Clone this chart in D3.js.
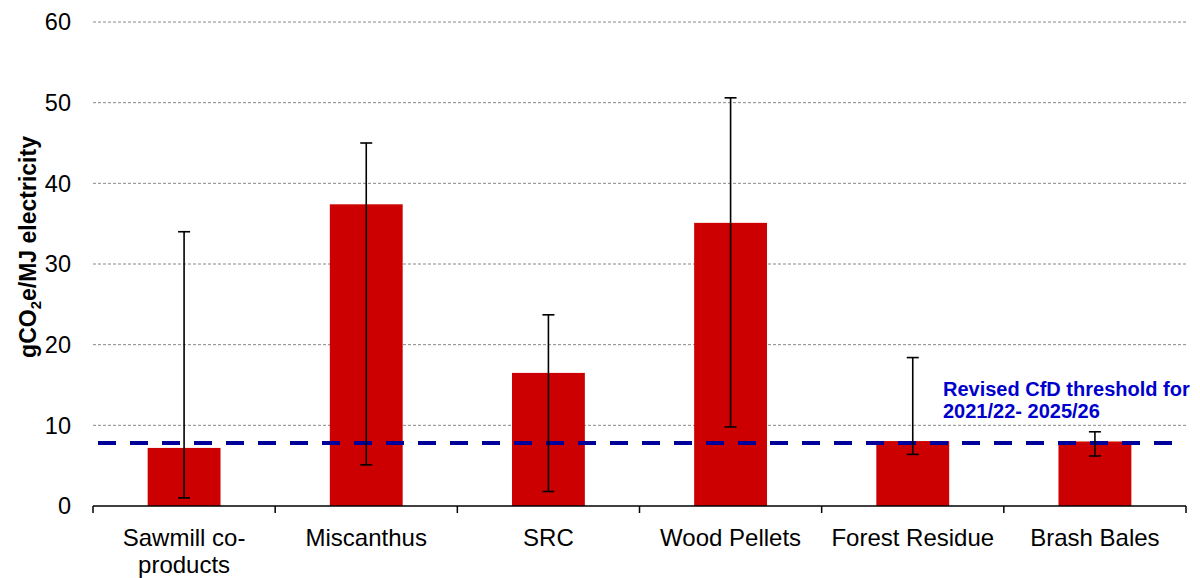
<!DOCTYPE html>
<html><head><meta charset="utf-8">
<script src="https://cdn.jsdelivr.net/npm/d3@7/dist/d3.min.js"></script>
<style>body{margin:0;background:#fff}svg{display:block;font-family:Arial,"Liberation Sans",sans-serif}</style>
</head><body><svg id="c" width="1200" height="578"></svg>
<script>
const categories = ["Sawmill co-products","Miscanthus","SRC","Wood Pellets","Forest Residue","Brash Bales"];
const labelLines = [["Sawmill co-","products"],["Miscanthus"],["SRC"],["Wood Pellets"],["Forest Residue"],["Brash Bales"]];
const values = [7.2, 37.4, 16.5, 35.1, 8.05, 8.0];
const errLow = [1.0, 5.1, 1.8, 9.8, 6.4, 6.2];
const errHigh = [34.0, 45.0, 23.7, 50.6, 18.4, 9.2];
const yTicks = [0,10,20,30,40,50,60];
const threshold = 7.8;
const thresholdLabel = ["Revised CfD threshold for","2021/22- 2025/26"];

const svg = d3.select("#c");
const L=93, R=1186, T=22, B=506;
const x = d3.scaleBand().domain(categories).range([L,R]).paddingInner(0.6).paddingOuter(0.3);
const xb = d3.scaleBand().domain(categories).range([L,R]);
const y = d3.scaleLinear().domain([0,60]).range([B,T]);

// gridlines
svg.append("g").selectAll("line").data(yTicks.filter(d=>d>0)).join("line")
  .attr("x1",L).attr("x2",R).attr("y1",d=>y(d)).attr("y2",d=>y(d))
  .attr("stroke","#888").attr("stroke-width",1).attr("stroke-dasharray","3,2");

// y tick labels
svg.append("g").selectAll("text").data(yTicks).join("text")
  .attr("x",71).attr("y",d=>y(d)).attr("dy","0.36em").attr("text-anchor","end")
  .attr("font-size",23.5).attr("fill","#000").text(d=>d);

// bars
svg.append("g").selectAll("rect").data(categories).join("rect")
  .attr("x",d=>x(d)).attr("width",x.bandwidth())
  .attr("y",(d,i)=>y(values[i])).attr("height",(d,i)=>y(0)-y(values[i]))
  .attr("fill","#cc0000");

// threshold line
svg.append("line").attr("x1",98).attr("x2",1172).attr("y1",y(threshold)).attr("y2",y(threshold))
  .attr("stroke","#000099").attr("stroke-width",4).attr("stroke-dasharray","18,14");

// error bars
const eg = svg.append("g").attr("stroke","#000").attr("stroke-width",1.6);
categories.forEach((c,i)=>{
  const cx = x(c)+x.bandwidth()/2;
  eg.append("line").attr("x1",cx).attr("x2",cx).attr("y1",y(errHigh[i])).attr("y2",y(errLow[i]));
  eg.append("line").attr("x1",cx-6).attr("x2",cx+6).attr("y1",y(errHigh[i])).attr("y2",y(errHigh[i]));
  eg.append("line").attr("x1",cx-6).attr("x2",cx+6).attr("y1",y(errLow[i])).attr("y2",y(errLow[i]));
});

// x axis
const xAxis = svg.append("g");
xAxis.append("line").attr("x1",L).attr("x2",R).attr("y1",B).attr("y2",B).attr("stroke","#000").attr("stroke-width",1.5);
const bounds = categories.map(c=>xb(c)).concat([R]);
xAxis.selectAll("line.tk").data(bounds).join("line").attr("class","tk")
  .attr("x1",d=>d).attr("x2",d=>d).attr("y1",B).attr("y2",B+7).attr("stroke","#000").attr("stroke-width",1.5);
categories.forEach((c,i)=>{
  const cx = xb(c)+xb.bandwidth()/2;
  const t = xAxis.append("text").attr("text-anchor","middle").attr("font-size",24).attr("fill","#000");
  labelLines[i].forEach((ln,j)=>t.append("tspan").attr("x",cx).attr("y",546+j*27).text(ln));
});

// threshold label
const tl = svg.append("text").attr("font-size",20).attr("font-weight","bold").attr("fill","#0000cc");
thresholdLabel.forEach((ln,j)=>tl.append("tspan").attr("x",943).attr("y",396+j*22).text(ln));

// y axis title
const yt = svg.append("text").attr("transform","translate(36,247) rotate(-90)")
  .attr("text-anchor","middle").attr("font-size",23).attr("font-weight","bold").attr("fill","#000");
yt.append("tspan").text("gCO");
yt.append("tspan").attr("font-size",15).attr("dy",5).text("2");
yt.append("tspan").attr("dy",-5).text("e/MJ electricity");
</script></body></html>
